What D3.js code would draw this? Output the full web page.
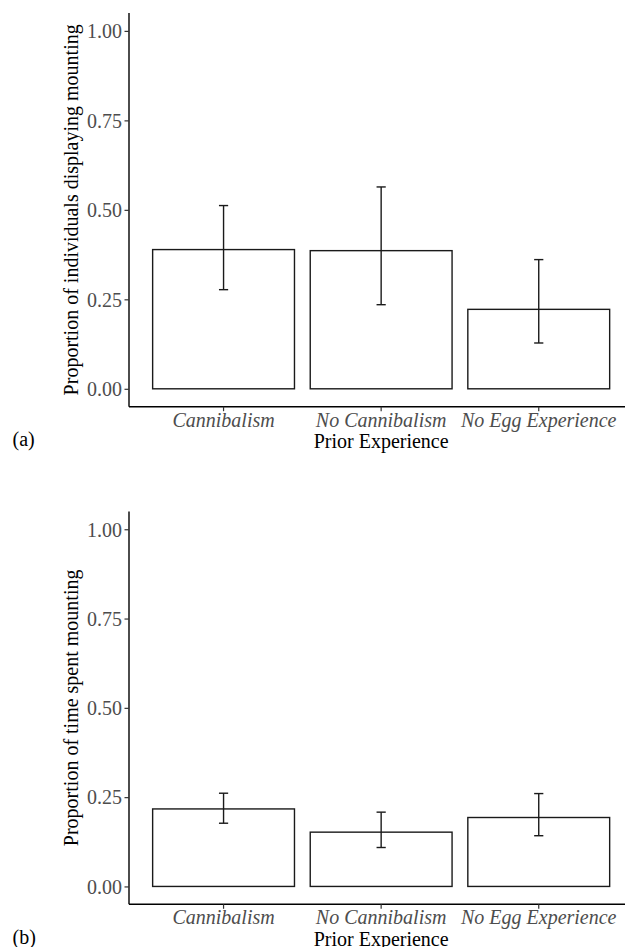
<!DOCTYPE html>
<html>
<head>
<meta charset="utf-8">
<script src="https://cdn.jsdelivr.net/npm/d3@7"></script>
<style>
  html, body { margin: 0; padding: 0; background: #fff; }
  svg { display: block; }
</style>
</head>
<body>
<script>
// Treatment groups (prior experience)
const categories = ["Cannibalism", "No Cannibalism", "No Egg Experience"];

// (a) proportion of individuals displaying mounting, with interval bounds
const mountingProp = [0.389, 0.386, 0.222];
const mountingLow  = [0.277, 0.235, 0.128];
const mountingHigh = [0.512, 0.564, 0.361];

// (b) proportion of time spent mounting, with interval bounds
const timeProp = [0.217, 0.152, 0.193];
const timeLow  = [0.177, 0.109, 0.142];
const timeHigh = [0.261, 0.208, 0.260];

// Y-axis tick values and labels
const yTicks = [0, 0.25, 0.5, 0.75, 1];
const yTickLabels = ["0.00", "0.25", "0.50", "0.75", "1.00"];

const panelLabels = ["(a)", "(b)"];
const yTitles = ["Proportion of individuals displaying mounting", "Proportion of time spent mounting"];
const xTitle = "Prior Experience";

const W = 625, H = 947;
const svg = d3.select("body").append("svg").attr("width", W).attr("height", H);

const FAMILY = '"Liberation Serif", "Tinos", "Times New Roman", serif';
const FONT = "20px";
const plotLeft = 129, plotRight = 633.3;

const x = d3.scaleBand()
  .domain(categories)
  .range([plotLeft, plotRight])
  .paddingInner(0.1)
  .paddingOuter(0.15);

function panel(top, bottom, values, lows, highs, yTitle, label) {
  const y = d3.scaleLinear().domain([-0.05, 1.05]).range([bottom, top]);
  const g = svg.append("g");
  const rows = categories.map((c, i) => ({ c, v: values[i], lo: lows[i], hi: highs[i] }));

  // bars
  g.selectAll("rect.bar").data(rows).enter().append("rect")
    .attr("class", "bar")
    .attr("x", d => x(d.c))
    .attr("width", x.bandwidth())
    .attr("y", d => y(d.v))
    .attr("height", d => y(0) - y(d.v))
    .attr("fill", "#fff")
    .attr("stroke", "#1a1a1a")
    .attr("stroke-width", 1.4);

  // error bars
  const cap = 4.6;
  const cx = d => x(d.c) + x.bandwidth() / 2;
  const eb = g.selectAll("g.eb").data(rows).enter().append("g").attr("class", "eb")
    .attr("stroke", "#1a1a1a").attr("stroke-width", 1.4);
  eb.append("line")
    .attr("x1", cx).attr("x2", cx)
    .attr("y1", d => y(d.lo)).attr("y2", d => y(d.hi));
  eb.append("line")
    .attr("x1", d => cx(d) - cap).attr("x2", d => cx(d) + cap)
    .attr("y1", d => y(d.hi)).attr("y2", d => y(d.hi));
  eb.append("line")
    .attr("x1", d => cx(d) - cap).attr("x2", d => cx(d) + cap)
    .attr("y1", d => y(d.lo)).attr("y2", d => y(d.lo));

  // y axis
  const yAxis = d3.axisLeft(y).tickValues(yTicks)
    .tickFormat((d, i) => yTickLabels[i]).tickSize(4.5).tickPadding(2.5);
  const ya = g.append("g").attr("transform", `translate(${plotLeft},0)`).call(yAxis);
  ya.select(".domain").attr("d", `M0,${top}V${bottom}`).attr("stroke", "#000").attr("stroke-width", 1.4);
  ya.selectAll(".tick line").attr("stroke", "#333").attr("stroke-width", 1.2);
  ya.selectAll(".tick text")
    .style("font-family", FAMILY).style("font-size", FONT)
    .attr("fill", "#4d4d4d")
    .attr("dy", "0.34em");

  // x axis
  const xAxis = d3.axisBottom(x).tickSize(4.5).tickPadding(3);
  const xa = g.append("g").attr("transform", `translate(0,${bottom})`).call(xAxis);
  xa.select(".domain").attr("d", `M${plotLeft},0H${plotRight}`).attr("stroke", "#000").attr("stroke-width", 1.4);
  xa.selectAll(".tick line").attr("stroke", "#333").attr("stroke-width", 1.2);
  xa.selectAll(".tick text")
    .style("font-family", FAMILY).style("font-size", FONT).style("font-style", "italic")
    .attr("fill", "#4d4d4d")
    .attr("dy", null).attr("y", 20);

  // axis titles
  g.append("text")
    .attr("x", (plotLeft + plotRight) / 2).attr("y", bottom + 41.5)
    .attr("text-anchor", "middle")
    .style("font-family", FAMILY).style("font-size", FONT).attr("fill", "#000")
    .text(xTitle);
  g.append("text")
    .attr("transform", `translate(78,${(top + bottom) / 2}) rotate(-90)`)
    .attr("text-anchor", "middle")
    .style("font-family", FAMILY).style("font-size", FONT).attr("fill", "#000")
    .text(yTitle);

  // panel label
  g.append("text")
    .attr("x", 12.5).attr("y", bottom + 39.5)
    .style("font-family", FAMILY).style("font-size", FONT).attr("fill", "#000")
    .text(label);
}

panel(13, 406.7, mountingProp, mountingLow, mountingHigh, yTitles[0], panelLabels[0]);
panel(511.4, 904.3, timeProp, timeLow, timeHigh, yTitles[1], panelLabels[1]);
</script>
</body>
</html>
